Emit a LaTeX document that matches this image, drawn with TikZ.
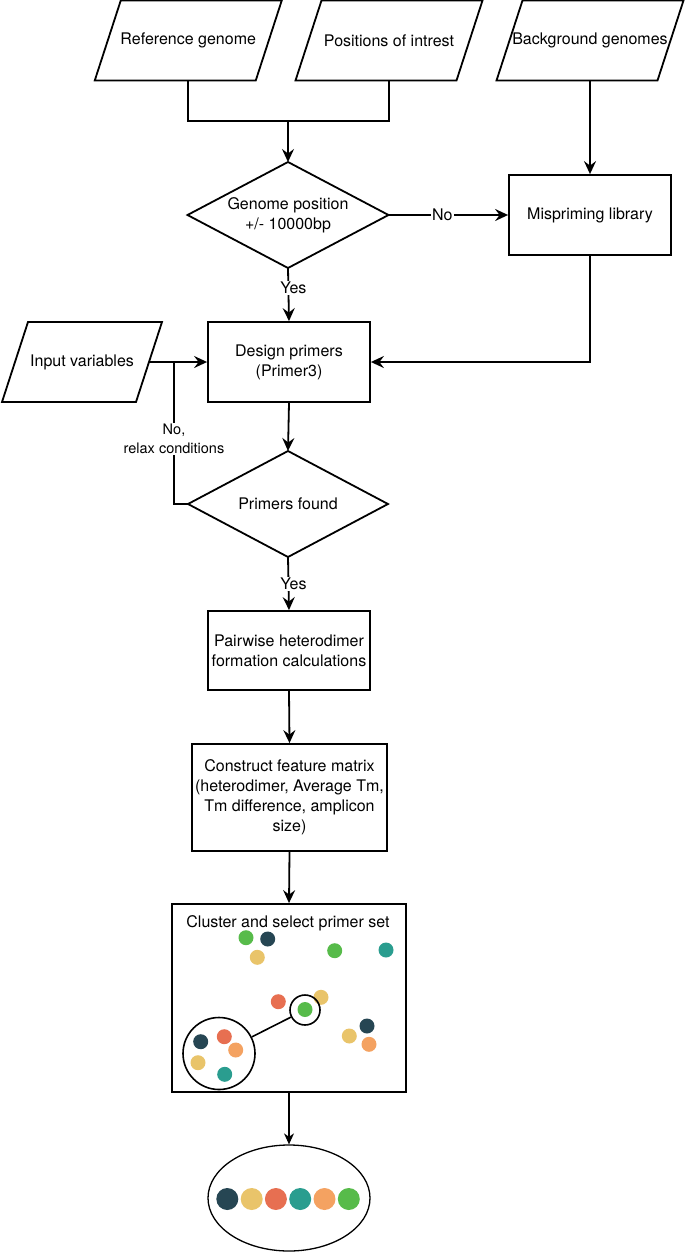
\documentclass[tikz,border=0pt]{standalone}
\usepackage{fontspec}
\setmainfont{TeX Gyre Heros}
\usetikzlibrary{arrows.meta,shapes.geometric}
\definecolor{cdark}{HTML}{264653}
\definecolor{cyellow}{HTML}{E9C46A}
\definecolor{cred}{HTML}{E76F51}
\definecolor{cteal}{HTML}{2A9D8F}
\definecolor{corange}{HTML}{F4A261}
\definecolor{cgreen}{HTML}{57BB4A}
\newcommand{\paraoutline}[2]{\draw[outl] ([xshift=#2]#1.north west) -- ([xshift=#2]#1.north east) -- ([xshift=-#2]#1.south east) -- ([xshift=-#2]#1.south west) -- cycle;}
\newcommand{\diaoutline}[1]{\draw[outl] (#1.north) -- (#1.east) -- (#1.south) -- (#1.west) -- cycle;}
\begin{document}
\begin{tikzpicture}[x=1pt,y=-1pt,
  every node/.style={font=\fontsize{16}{20}\selectfont, align=center},
  outl/.style={line width=1.8pt, line join=miter},
  boxnode/.style={draw, line width=1.8pt, minimum width=162pt, minimum height=80pt, inner sep=2pt},
  paranode/.style={minimum height=80pt, inner sep=0pt, outer sep=0pt},
  dianode/.style={minimum width=201pt, minimum height=106pt, inner sep=0pt, outer sep=0pt},
  conn/.style={line width=1.8pt},
  arr/.style={conn, -{Stealth[length=13pt,width=12pt,inset=4.5pt]}},
  thinarr/.style={line width=1.1pt, -{Stealth[length=11pt,width=10pt,inset=3.5pt]}},
  lab/.style={fill=white, inner sep=1pt},
  dot/.style={circle, inner sep=0pt, minimum size=15pt},
  bigdot/.style={circle, inner sep=0pt, minimum size=22pt}
]
\useasboundingbox (0,0) rectangle (685,1254);

% inputs
\node[paranode, minimum width=161pt] (ref) at (188.25,40.5) {Reference genome};
\paraoutline{ref}{13pt}
\node[paranode, minimum width=161pt] (pos) at (389,40.5) {Positions of intrest};
\paraoutline{pos}{13pt}
\node[paranode, minimum width=161pt] (bg) at (590,40.5) {Background genomes};
\paraoutline{bg}{13pt}

% decision 1
\node[dianode] (d1) at (288,215) {Genome position\\+/- 10000bp};
\diaoutline{d1}
\node[boxnode] (mis) at (590,215) {Mispriming library};

% design
\node[boxnode] (des) at (289,362) {Design primers\\(Primer3)};
\node[paranode, minimum width=134pt] (inp) at (82,362) {Input variables};
\paraoutline{inp}{13pt}

% decision 2
\node[dianode, minimum width=200pt] (d2) at (288,504) {Primers found};
\diaoutline{d2}

\node[boxnode, minimum height=79pt] (pair) at (289,650.5) {Pairwise heterodimer\\formation calculations};
\node[boxnode, minimum width=195pt, minimum height=107pt] (cons) at (289.5,797.5) {Construct feature matrix\\(heterodimer, Average Tm,\\Tm difference, amplicon\\size)};

% cluster box
\node[draw, line width=1.8pt, minimum width=234pt, minimum height=188pt, inner sep=0pt] (clus) at (289,998) {};
\node (ctitle) at (288,923) {Cluster and select primer set};
\node[dot, fill=cgreen] (c1) at (246,937.7) {};
\node[dot, fill=cdark] (c2) at (267.7,939) {};
\node[dot, fill=cyellow] (c3) at (257.3,957.3) {};
\node[dot, fill=cgreen] (c4) at (334.7,950.7) {};
\node[dot, fill=cteal] (c5) at (386,950) {};
\node[dot, fill=cred] (c6) at (278.3,1001.7) {};
\node[dot, fill=cyellow] (c7) at (321,997.3) {};
\node[dot, fill=cgreen] (c8) at (305,1009.5) {};
\node[dot, fill=cdark] (c9) at (367,1026) {};
\node[dot, fill=cyellow] (c10) at (349.3,1036) {};
\node[dot, fill=corange] (c11) at (369,1044.3) {};
\node[dot, fill=cdark] (c12) at (200.7,1041.7) {};
\node[dot, fill=cred] (c13) at (224.3,1036.7) {};
\node[dot, fill=corange] (c14) at (235.7,1050) {};
\node[dot, fill=cyellow] (c15) at (198,1062.7) {};
\node[dot, fill=cteal] (c16) at (224.7,1074.3) {};
\node[circle, draw, line width=1.6pt, minimum size=30pt, inner sep=0pt] (small) at (305,1010) {};
\node[circle, draw, line width=1.6pt, minimum size=72pt, inner sep=0pt] (big) at (219,1053.5) {};
\draw[line width=1.6pt] (big) -- (small);

% result
\node[ellipse, draw, line width=1.3pt, minimum width=162pt, minimum height=106pt, inner sep=0pt] (ell) at (289,1198) {};
\node[bigdot, fill=cdark] (r1) at (227.3,1199) {};
\node[bigdot, fill=cyellow] (r2) at (251.7,1199) {};
\node[bigdot, fill=cred] (r3) at (275.9,1199) {};
\node[bigdot, fill=cteal] (r4) at (300.2,1199) {};
\node[bigdot, fill=corange] (r5) at (324.5,1199) {};
\node[bigdot, fill=cgreen] (r6) at (348.8,1199) {};

% connectors
\coordinate (j1) at (288,121);
\coordinate (jn) at (174,362);
\draw[conn] (ref.south) |- (j1) -| (pos.south);
\draw[arr] (j1) -- (d1.north);
\draw[arr] (bg.south) -- (mis.north);
\draw[arr] (d1.east) -- node[lab, pos=0.45] {No} (mis.west);
\draw[arr] (d1.south) -- node[lab, pos=0.37, xshift=5pt] {Yes} (des.north);
\draw[arr] (mis.south) |- (des.east);
\draw[arr] (inp.east) -- (des.west);
\draw[arr] (des.south) -- (d2.north);
\draw[conn] (d2.west) -| node[lab, pos=0.73, font=\fontsize{14.5}{19}\selectfont] {No,\\relax conditions} (jn);
\draw[arr] (d2.south) -- node[lab, pos=0.5, xshift=5pt] {Yes} (pair.north);
\draw[arr] (pair.south) -- (cons.north);
\draw[arr] (cons.south) -- (clus.north);
\draw[thinarr] (clus.south) -- (ell.north);
\end{tikzpicture}
\end{document}
